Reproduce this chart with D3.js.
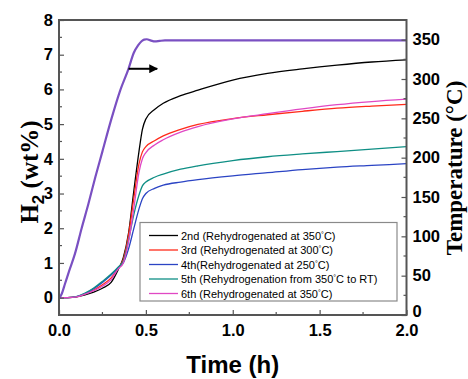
<!DOCTYPE html>
<html>
<head>
<meta charset="utf-8">
<script src="https://cdn.jsdelivr.net/npm/d3@7"></script>
<style>
  html, body { margin: 0; padding: 0; background: #fff; }
  svg { display: block; }
</style>
</head>
<body>
<div id="chart"></div>
<script>
// ─── Data ─────────────────────────────────────────────────────────────────────
const time = [0, 0.05, 0.1, 0.15, 0.2, 0.25, 0.3, 0.34, 0.37, 0.4, 0.43, 0.46, 0.48,
  0.5, 0.55, 0.6, 0.7, 0.8, 1.0, 1.2, 1.4, 1.6, 1.8, 2.0]

const h2_2nd = [0, 0, 0.02, 0.08, 0.16, 0.27, 0.44, 0.8, 1.15, 1.85, 3.05, 4.2, 4.85,
  5.15, 5.42, 5.6, 5.82, 5.98, 6.27, 6.46, 6.59, 6.7, 6.79, 6.85]
const h2_3rd = [0, 0, 0.02, 0.11, 0.22, 0.37, 0.57, 0.84, 1.1, 1.8, 2.85, 3.85, 4.2,
  4.35, 4.52, 4.66, 4.85, 4.99, 5.16, 5.27, 5.37, 5.46, 5.52, 5.57]
const h2_4th = [0, 0, 0.03, 0.12, 0.26, 0.44, 0.65, 0.86, 1.0, 1.4, 1.98, 2.55, 2.85,
  3.0, 3.15, 3.24, 3.33, 3.4, 3.51, 3.6, 3.69, 3.76, 3.81, 3.86]
const h2_5th = [0, 0, 0.03, 0.13, 0.28, 0.47, 0.68, 0.88, 1.05, 1.65, 2.38, 2.95, 3.22,
  3.33, 3.47, 3.56, 3.7, 3.8, 3.95, 4.06, 4.14, 4.21, 4.28, 4.35]
const h2_6th = [0, 0, 0.02, 0.1, 0.2, 0.33, 0.52, 0.82, 1.0, 1.6, 2.55, 3.6, 4.0,
  4.18, 4.4, 4.55, 4.77, 4.93, 5.15, 5.3, 5.44, 5.56, 5.65, 5.72]

const tempTime = [0, 0.016, 0.035, 0.06, 0.092, 0.13, 0.169, 0.21, 0.25, 0.3, 0.35, 0.4,
  0.43, 0.456, 0.475, 0.49, 0.505, 0.53, 0.552, 0.58, 0.61, 0.7, 1.0, 1.5, 2.0]
const temperature = [21, 27, 40, 57, 78, 110, 141, 176, 208, 248, 284, 313,
  333, 343, 348, 350, 350.5, 348.8, 347.8, 348.5, 349, 349, 349, 349, 349]

const seriesNames = [
  '2nd (Rehydrogenated at 350|C)',
  '3rd (Rehydrogenated at 300|C)',
  '4th(Rehydrogenated at 250|C)',
  '5th (Rehydrogenation from 350|C to RT)',
  '6th (Rehydrogenated at 350|C)',
]
const seriesValues = [h2_2nd, h2_3rd, h2_4th, h2_5th, h2_6th]
const seriesColors = ['#000000', '#ff2a1a', '#2b44c4', '#0f8f85', '#e048c4']

const xTicks = [0, 0.5, 1.0, 1.5, 2.0]
const yTicks = [0, 1, 2, 3, 4, 5, 6, 7, 8]
const tTicks = [0, 50, 100, 150, 200, 250, 300, 350]

// arrow pointing to the temperature axis: [t0, t1, temperature]
const arrow = [0.4, 0.565, 313]

// ─── Layout ───────────────────────────────────────────────────────────────────
const W = 468, H = 379
const M = { left: 59, right: 406.5, top: 20, bottom: 315 }

const svg = d3.select('#chart').append('svg')
  .attr('width', W).attr('height', H)
  .style('font-family', 'Liberation Sans, Arial, sans-serif')

const x = d3.scaleLinear([0, 2], [M.left, M.right])
const y = d3.scaleLinear([-0.5, 8], [M.bottom, M.top])
const yT = d3.scaleLinear([0, 375], [M.bottom, M.top])

const defs = svg.append('defs')
defs.append('clipPath').attr('id', 'plot')
  .append('rect')
  .attr('x', M.left).attr('y', M.top)
  .attr('width', M.right - M.left).attr('height', M.bottom - M.top)

defs.append('marker')
  .attr('id', 'head')
  .attr('viewBox', '0 0 10 10')
  .attr('refX', 9).attr('refY', 5)
  .attr('markerWidth', 5.5).attr('markerHeight', 4.4)
  .attr('markerUnits', 'strokeWidth')
  .attr('orient', 'auto')
  .append('path').attr('d', 'M0,0 L10,5 L0,10 Z').attr('fill', '#000')

// ── Curves ──────────────────────────────────────────────────────────────────
const plotG = svg.append('g').attr('clip-path', 'url(#plot)')

const h2Line = d3.line()
  .x(d => x(d[0])).y(d => y(d[1]))
  .curve(d3.curveMonotoneX)

seriesValues.forEach((vals, i) => {
  plotG.append('path')
    .datum(time.map((t, k) => [t, vals[k]]))
    .attr('d', h2Line)
    .attr('fill', 'none')
    .attr('stroke', seriesColors[i])
    .attr('stroke-width', 1.3)
})

const tLine = d3.line()
  .x(d => x(d[0])).y(d => yT(d[1]))
  .curve(d3.curveMonotoneX)

plotG.append('path')
  .datum(tempTime.map((t, k) => [t, temperature[k]]))
  .attr('d', tLine)
  .attr('fill', 'none')
  .attr('stroke', '#7a50c2')
  .attr('stroke-width', 2.2)

svg.append('line')
  .attr('x1', x(arrow[0])).attr('x2', x(arrow[1]))
  .attr('y1', yT(arrow[2])).attr('y2', yT(arrow[2]))
  .attr('stroke', '#000').attr('stroke-width', 2)
  .attr('marker-end', 'url(#head)')

// ── Axes ────────────────────────────────────────────────────────────────────
const axisColor = '#555'

function styleAxis(g) {
  g.select('.domain').remove()
  g.selectAll('.tick line').attr('stroke', axisColor).attr('stroke-width', 1.2)
  g.selectAll('.tick text')
    .attr('fill', '#000')
    .style('font-family', 'Liberation Sans, Arial, sans-serif')
    .style('font-size', '16.5px')
    .style('font-weight', 'bold')
}

function minorTicks(g, scale, vals, orient) {
  vals.forEach(v => {
    const p = scale(v)
    if (orient === 'left') g.append('line').attr('x1', M.left).attr('x2', M.left + 3).attr('y1', p).attr('y2', p)
    if (orient === 'right') g.append('line').attr('x1', M.right).attr('x2', M.right - 3).attr('y1', p).attr('y2', p)
    if (orient === 'bottom') g.append('line').attr('y1', M.bottom).attr('y2', M.bottom - 3).attr('x1', p).attr('x2', p)
  })
  g.selectAll('line').attr('stroke', axisColor).attr('stroke-width', 1.2)
}

svg.append('g')
  .attr('transform', `translate(0,${M.bottom})`)
  .call(d3.axisBottom(x).tickValues(xTicks).tickFormat(d3.format('.1f')).tickSize(-5).tickPadding(9))
  .call(styleAxis)

svg.append('g')
  .attr('transform', `translate(${M.left},0)`)
  .call(d3.axisLeft(y).tickValues(yTicks).tickFormat(d3.format('d')).tickSize(-5).tickPadding(6))
  .call(styleAxis)

const rightAxis = svg.append('g')
  .attr('transform', `translate(${M.right},0)`)
  .call(d3.axisRight(yT).tickValues(tTicks).tickFormat(d3.format('d')).tickSize(-5).tickPadding(6))
  .call(styleAxis)
rightAxis.selectAll('.tick text').filter(d => d === 0).attr('dy', '0.1em')

minorTicks(svg.append('g'), y, d3.range(-0.5, 8, 1), 'left')
minorTicks(svg.append('g'), yT, d3.range(25, 375, 50), 'right')
minorTicks(svg.append('g'), x, [0.25, 0.75, 1.25, 1.75], 'bottom')

svg.append('rect')
  .attr('x', M.left).attr('y', M.top)
  .attr('width', M.right - M.left).attr('height', M.bottom - M.top)
  .attr('fill', 'none').attr('stroke', axisColor).attr('stroke-width', 2)

// ── Axis titles ─────────────────────────────────────────────────────────────
svg.append('text')
  .attr('x', (M.left + M.right) / 2).attr('y', 373)
  .attr('text-anchor', 'middle')
  .style('font-size', '24px').style('font-weight', 'bold')
  .text('Time (h)')

const yLab = svg.append('text')
  .attr('transform', `translate(38,172) rotate(-90)`)
  .attr('text-anchor', 'middle')
  .style('font-family', 'Liberation Serif, Times New Roman, serif')
  .style('font-size', '25px').style('font-weight', 'bold')
yLab.append('tspan').text('H')
yLab.append('tspan').attr('dy', 6)
  .style('font-family', 'Liberation Sans, Arial, sans-serif').style('font-size', '17px').text('2')
yLab.append('tspan').attr('dy', -6).text(' (wt%)')

svg.append('text')
  .attr('transform', `translate(462,168) rotate(-90)`)
  .attr('text-anchor', 'middle')
  .style('font-family', 'Liberation Serif, Times New Roman, serif')
  .style('font-size', '23px').style('font-weight', 'bold')
  .text('Temperature (°C)')

// ── Legend ──────────────────────────────────────────────────────────────────
const leg = svg.append('g')
leg.append('rect')
  .attr('x', 140).attr('y', 222.5).attr('width', 257).attr('height', 78.5)
  .attr('fill', '#fff').attr('stroke', '#8a8a8a').attr('stroke-width', 1.2)

seriesNames.forEach((name, i) => {
  const ly = 235.5 + i * 14.5
  leg.append('line')
    .attr('x1', 149).attr('x2', 178).attr('y1', ly).attr('y2', ly)
    .attr('stroke', seriesColors[i]).attr('stroke-width', 1.3)
  const txt = leg.append('text')
    .attr('x', 181).attr('y', ly + 4)
    .style('font-size', '11px')
  const parts = name.split('|')
  txt.append('tspan').text(parts[0])
  txt.append('tspan').attr('dy', -3).style('font-size', '7px').text('°')
  txt.append('tspan').attr('dy', 3).text(parts[1])
})
</script>
</body>
</html>
